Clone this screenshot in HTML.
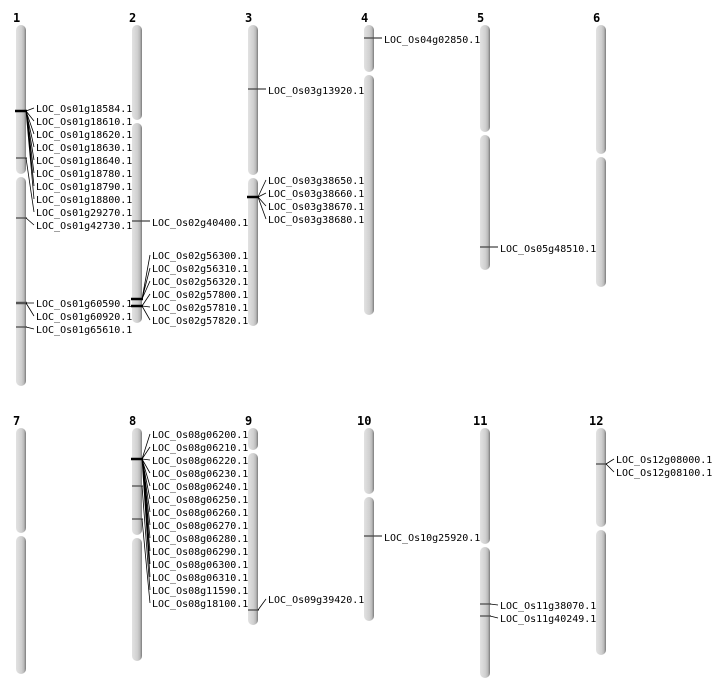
<!DOCTYPE html>
<html><head><meta charset="utf-8"><style>
html,body{margin:0;padding:0;background:#fff;}
svg{display:block;}
text{font-family:"DejaVu Sans Mono","Liberation Mono",monospace;font-size:10px;fill:#000;}
.n{font-family:"DejaVu Sans Mono",monospace;font-weight:bold;font-size:12px;}
.c{stroke:#000;stroke-width:0.8;fill:none;}
.m{stroke:#444;stroke-width:1.2;}
.t{stroke:#000;stroke-width:2.5;}
</style></head><body>
<svg width="712" height="700" viewBox="0 0 712 700">
<defs><linearGradient id="g" x1="0" x2="1" y1="0" y2="0">
<stop offset="0" stop-color="#e2e2e2"/><stop offset="0.55" stop-color="#d0d0d0"/><stop offset="0.8" stop-color="#b8b8b8"/><stop offset="1" stop-color="#7a7a7a"/></linearGradient></defs>
<g fill="url(#g)">
<rect x="16" y="25" width="10" height="149" rx="5"/><rect x="16" y="177" width="10" height="209" rx="5"/>
<rect x="132" y="25" width="10" height="95" rx="5"/><rect x="132" y="123" width="10" height="200" rx="5"/>
<rect x="248" y="25" width="10" height="150" rx="5"/><rect x="248" y="178" width="10" height="148" rx="5"/>
<rect x="364" y="25" width="10" height="47" rx="5"/><rect x="364" y="75" width="10" height="240" rx="5"/>
<rect x="480" y="25" width="10" height="107" rx="5"/><rect x="480" y="135" width="10" height="135" rx="5"/>
<rect x="596" y="25" width="10" height="129" rx="5"/><rect x="596" y="157" width="10" height="130" rx="5"/>
<rect x="16" y="428" width="10" height="105" rx="5"/><rect x="16" y="536" width="10" height="138" rx="5"/>
<rect x="132" y="428" width="10" height="107" rx="5"/><rect x="132" y="538" width="10" height="123" rx="5"/>
<rect x="248" y="428" width="10" height="22" rx="5"/><rect x="248" y="453" width="10" height="172" rx="5"/>
<rect x="364" y="428" width="10" height="66" rx="5"/><rect x="364" y="497" width="10" height="124" rx="5"/>
<rect x="480" y="428" width="10" height="116" rx="5"/><rect x="480" y="547" width="10" height="131" rx="5"/>
<rect x="596" y="428" width="10" height="99" rx="5"/><rect x="596" y="530" width="10" height="125" rx="5"/>
</g>
<text class="n" x="13" y="22">1</text><text class="n" x="129" y="22">2</text><text class="n" x="245" y="22">3</text><text class="n" x="361" y="22">4</text><text class="n" x="477" y="22">5</text><text class="n" x="593" y="22">6</text>
<text class="n" x="13" y="425">7</text><text class="n" x="129" y="425">8</text><text class="n" x="245" y="425">9</text><text class="n" x="357" y="425">10</text><text class="n" x="473" y="425">11</text><text class="n" x="589" y="425">12</text>
<!-- markers -->
<line class="t" x1="15" x2="27" y1="111" y2="111"/><line class="m" x1="16" x2="27" y1="158" y2="158"/><line class="m" x1="16" x2="27" y1="218" y2="218"/>
<line class="t" x1="16" x2="27" y1="303" y2="303" style="stroke:#555"/><line class="m" x1="16" x2="27" y1="327" y2="327"/>
<line class="m" x1="132" x2="150" y1="221" y2="221"/><line class="t" x1="131" x2="143" y1="299" y2="299"/><line class="t" x1="131" x2="143" y1="306" y2="306"/>
<line class="m" x1="248" x2="266" y1="89" y2="89"/><line class="t" x1="247" x2="259" y1="197" y2="197"/>
<line class="m" x1="364" x2="382" y1="38" y2="38"/><line class="m" x1="480" x2="498" y1="247" y2="247"/>
<line class="t" x1="131" x2="143" y1="459" y2="459"/><line class="m" x1="132" x2="143" y1="486" y2="486"/><line class="m" x1="132" x2="143" y1="519" y2="519"/>
<line class="m" x1="248" x2="259" y1="610" y2="610"/><line class="m" x1="364" x2="382" y1="536" y2="536"/>
<line class="m" x1="480" x2="491" y1="604" y2="604"/><line class="m" x1="480" x2="491" y1="616" y2="616"/><line class="m" x1="596" x2="607" y1="464" y2="464"/>
<!-- connectors -->
<path class="c" d="M26 111L34 108M26 111L34 121M26 111L34 134M26 111L34 147M26 111L34 160M26 111L34 173M26 111L34 186M26 111L34 199M26 158L34 212M26 218L34 225M26 303L34 303M26 303L34 316M26 327L34 329"/>
<path class="c" d="M142 299L150 255M142 299L150 268M142 299L150 281M142 306L150 294M142 306L150 307M142 306L150 320"/>
<path class="c" d="M258 197L266 180M258 197L266 193M258 197L266 206M258 197L266 219"/>
<path class="c" d="M142 459L150 434M142 459L150 447M142 459L150 460M142 459L150 473M142 459L150 486M142 459L150 499M142 459L150 512M142 459L150 525M142 459L150 538M142 459L150 551M142 459L150 564M142 459L150 577M142 486L150 590M142 519L150 603"/>
<path class="c" d="M258 610L266 599M490 604L498 605M490 616L498 618M606 464L614 459M606 464L614 472"/>
<!-- labels -->
<g>
<text x="36" y="112">LOC_Os01g18584.1</text><text x="36" y="125">LOC_Os01g18610.1</text><text x="36" y="138">LOC_Os01g18620.1</text><text x="36" y="151">LOC_Os01g18630.1</text><text x="36" y="164">LOC_Os01g18640.1</text><text x="36" y="177">LOC_Os01g18780.1</text><text x="36" y="190">LOC_Os01g18790.1</text><text x="36" y="203">LOC_Os01g18800.1</text><text x="36" y="216">LOC_Os01g29270.1</text><text x="36" y="229">LOC_Os01g42730.1</text>
<text x="36" y="307">LOC_Os01g60590.1</text><text x="36" y="320">LOC_Os01g60920.1</text><text x="36" y="333">LOC_Os01g65610.1</text>
<text x="152" y="226">LOC_Os02g40400.1</text>
<text x="152" y="259">LOC_Os02g56300.1</text><text x="152" y="272">LOC_Os02g56310.1</text><text x="152" y="285">LOC_Os02g56320.1</text><text x="152" y="298">LOC_Os02g57800.1</text><text x="152" y="311">LOC_Os02g57810.1</text><text x="152" y="324">LOC_Os02g57820.1</text>
<text x="268" y="94">LOC_Os03g13920.1</text>
<text x="268" y="184">LOC_Os03g38650.1</text><text x="268" y="197">LOC_Os03g38660.1</text><text x="268" y="210">LOC_Os03g38670.1</text><text x="268" y="223">LOC_Os03g38680.1</text>
<text x="384" y="43">LOC_Os04g02850.1</text>
<text x="500" y="252">LOC_Os05g48510.1</text>
<text x="152" y="438">LOC_Os08g06200.1</text><text x="152" y="451">LOC_Os08g06210.1</text><text x="152" y="464">LOC_Os08g06220.1</text><text x="152" y="477">LOC_Os08g06230.1</text><text x="152" y="490">LOC_Os08g06240.1</text><text x="152" y="503">LOC_Os08g06250.1</text><text x="152" y="516">LOC_Os08g06260.1</text><text x="152" y="529">LOC_Os08g06270.1</text><text x="152" y="542">LOC_Os08g06280.1</text><text x="152" y="555">LOC_Os08g06290.1</text><text x="152" y="568">LOC_Os08g06300.1</text><text x="152" y="581">LOC_Os08g06310.1</text><text x="152" y="594">LOC_Os08g11590.1</text><text x="152" y="607">LOC_Os08g18100.1</text>
<text x="268" y="603">LOC_Os09g39420.1</text>
<text x="384" y="541">LOC_Os10g25920.1</text>
<text x="500" y="609">LOC_Os11g38070.1</text><text x="500" y="622">LOC_Os11g40249.1</text>
<text x="616" y="463">LOC_Os12g08000.1</text><text x="616" y="476">LOC_Os12g08100.1</text>
</g>
</svg>
</body></html>
